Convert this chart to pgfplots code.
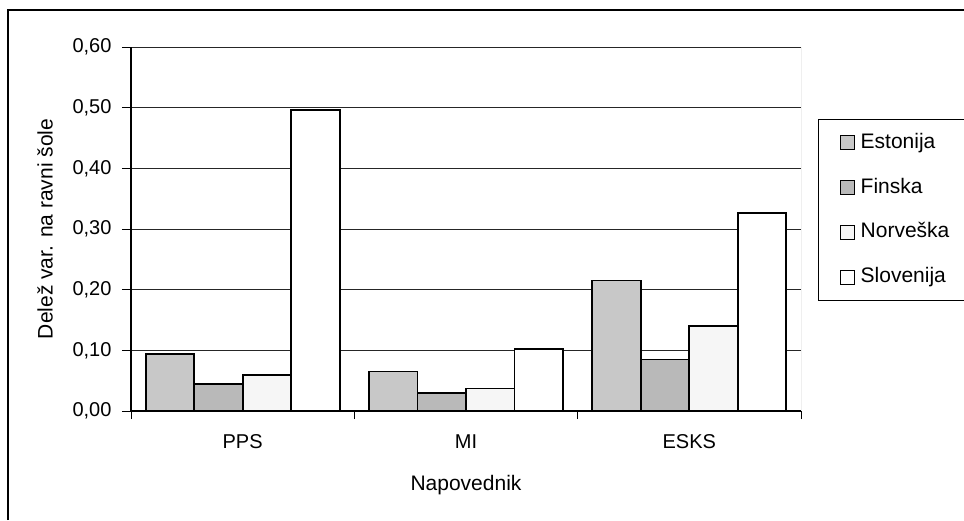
\documentclass[border=0pt]{standalone}
\usepackage{fontspec}
\setmainfont{Liberation Sans}
\usepackage{pgfplots}
\pgfplotsset{compat=1.18}

\definecolor{estonija}{RGB}{200,200,200}
\definecolor{finska}{RGB}{185,185,185}
\definecolor{norveska}{RGB}{246,246,246}
\definecolor{slovenija}{RGB}{255,255,255}

\begin{document}
\begin{tikzpicture}[x=1pt,y=1pt]
	\useasboundingbox (0,0) rectangle (964,520);
	% outer chart frame (only left and top show)
	\draw[line width=2pt] (7.5,0) -- (7.5,510) -- (970,510);
	\begin{axis}[
		at={(131pt,109pt)},
		anchor=south west,
		scale only axis,
		width=670pt,
		height=364pt,
		ybar=0pt,
		bar width=48.5pt,
		xmin=-0.5, xmax=2.5,
		ymin=0, ymax=0.6,
		xtick={0,1,2},
		xticklabels={PPS,MI,ESKS},
		major x tick style={draw=none},
		minor xtick={-0.5,0.5,1.5,2.5},
		ytick={0,0.1,...,0.6},
		tick align=outside,
		major tick length=9pt,
		minor tick length=8pt,
		tick style={black, line width=0.8pt},
		axis lines*=left,
		axis line style={black, line width=1.4pt, -},
		ymajorgrids,
		major grid style={black!85, line width=0.8pt},
		/pgf/number format/use comma,
		/pgf/number format/fixed,
		/pgf/number format/fixed zerofill,
		/pgf/number format/precision=2,
		/pgf/number format/assume math mode=true,
		tick label style={font=\fontsize{20}{24}\selectfont},
		yticklabel style={xshift=-7pt},
		xticklabel style={yshift=-11pt},
		every axis y label/.style={at={(axis description cs:0,0.5)}, xshift=-86pt, rotate=90, anchor=center,
			font=\fontsize{21}{25}\selectfont},
		every axis x label/.style={at={(axis description cs:0.5,0)}, yshift=-74pt, anchor=center,
			font=\fontsize{21}{25}\selectfont},
		ylabel={Delež var. na ravni šole},
		xlabel={Napovednik},
		legend style={at={(1.0254,0.802)}, anchor=north west, draw=black, line width=0.7pt,
			inner xsep=14pt, inner ysep=12pt, row sep=21.7pt, column sep=4pt,
			nodes={inner sep=2pt, text height=15pt, text depth=4pt},
			font=\fontsize{21}{24}\selectfont},
		legend cell align=left,
		legend image code/.code={\path (0pt,0pt); \draw[#1, line width=0.9pt] (7pt,-7pt) rectangle (21pt,7pt);},
	]
		\addplot[draw=black, line width=1.8pt, fill=estonija] coordinates {(0,0.094) (1,0.065) (2,0.215)};
		\addlegendentry{Estonija}
		\addplot[draw=black, line width=1.8pt, fill=finska] coordinates {(0,0.045) (1,0.030) (2,0.085)};
		\addlegendentry{Finska}
		\addplot[draw=black, line width=1.8pt, fill=norveska] coordinates {(0,0.059) (1,0.037) (2,0.140)};
		\addlegendentry{Norveška}
		\addplot[draw=black, line width=1.8pt, fill=slovenija] coordinates {(0,0.496) (1,0.102) (2,0.327)};
		\addlegendentry{Slovenija}
		\draw[gray, line width=1pt] (rel axis cs:1,0) -- (rel axis cs:1,1);
	\end{axis}
\end{tikzpicture}
\end{document}
